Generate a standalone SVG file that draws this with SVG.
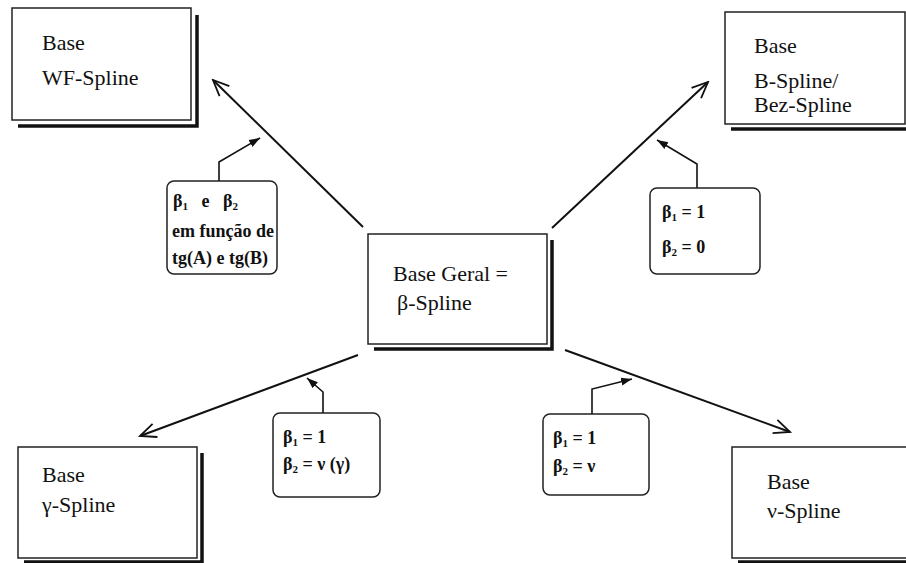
<svg xmlns="http://www.w3.org/2000/svg" width="906" height="563" viewBox="0 0 906 563">
<style>
.box{fill:#fff;stroke:#222;stroke-width:1.5}
.sh{fill:none;stroke:#111;stroke-width:3.5}
.lbl{fill:#fff;stroke:#222;stroke-width:1.5}
.t{font-family:"Liberation Serif","Times New Roman",serif;font-size:22px;fill:#111}
.s{font-family:"Liberation Serif","Times New Roman",serif;font-size:18px;font-weight:bold;fill:#111}
.sub{font-size:11px}
.main{fill:none;stroke:#111;stroke-width:2}
.conn{fill:none;stroke:#111;stroke-width:1.6}
</style>
<defs>
<marker id="open" markerWidth="20" markerHeight="16" refX="18" refY="8" orient="auto" markerUnits="userSpaceOnUse">
<path d="M2,1 L18,8 L2,15" fill="none" stroke="#111" stroke-width="1.8"/>
</marker>
<marker id="fill" markerWidth="12" markerHeight="10" refX="11" refY="5" orient="auto" markerUnits="userSpaceOnUse">
<path d="M0,1 L11,5 L0,9 Z" fill="#111"/>
</marker>
</defs>
<rect width="906" height="563" fill="#fff"/>

<g id="connectors">
<line class="main" x1="363" y1="227" x2="213" y2="80" marker-end="url(#open)"/>
<line class="main" x1="552" y1="228" x2="708" y2="82" marker-end="url(#open)"/>
<line class="main" x1="358" y1="355" x2="140" y2="436" marker-end="url(#open)"/>
<line class="main" x1="565" y1="350" x2="790" y2="432" marker-end="url(#open)"/>
<polyline class="conn" points="219,181 219,162 260,138" marker-end="url(#fill)"/>
<polyline class="conn" points="697,188 697,164 657,140" marker-end="url(#fill)"/>
<polyline class="conn" points="323,413 323,392 307,378" marker-end="url(#fill)"/>
<polyline class="conn" points="592,414 592,389 632,379" marker-end="url(#fill)"/>
</g>

<g id="wf">
<polyline class="sh" points="18,126 197,126 197,15"/>
<rect class="box" x="12" y="8" width="179" height="112"/>
<text class="t" x="42" y="50">Base</text>
<text class="t" x="42" y="85">WF-Spline</text>
</g>

<g id="bspline">
<line class="sh" x1="731" y1="129" x2="906" y2="129"/>
<rect class="box" x="725" y="12" width="180" height="112"/>
<text class="t" x="754" y="53">Base</text>
<text class="t" x="754" y="88">B-Spline/</text>
<text class="t" x="754" y="112">Bez-Spline</text>
</g>

<g id="central">
<polyline class="sh" points="374,349 552,349 552,240"/>
<rect class="box" x="368" y="234" width="179" height="110"/>
<text class="t" x="393" y="281">Base Geral =</text>
<text class="t" x="397" y="310">β-Spline</text>
</g>

<g id="gamma">
<polyline class="sh" points="24,562 202,562 202,453"/>
<rect class="box" x="18" y="447" width="179" height="111"/>
<text class="t" x="42" y="482">Base</text>
<text class="t" x="42" y="512">γ-Spline</text>
</g>

<g id="nu">
<line class="sh" x1="738" y1="562" x2="906" y2="562"/>
<rect class="box" x="732" y="447" width="180" height="111"/>
<text class="t" x="767" y="489">Base</text>
<text class="t" x="767" y="518">ν-Spline</text>
</g>

<g id="label-wf">
<rect class="lbl" x="167" y="181" width="110" height="93" rx="7"/>
<text class="s" x="173" y="207" xml:space="preserve">β<tspan class="sub" dy="3">1</tspan><tspan dy="-3">   e   β</tspan><tspan class="sub" dy="3">2</tspan></text>
<text class="s" x="172" y="237">em função de</text>
<text class="s" x="172" y="264">tg(A) e tg(B)</text>
</g>

<g id="label-b">
<rect class="lbl" x="650" y="188" width="110" height="86" rx="7"/>
<text class="s" x="662" y="218">β<tspan class="sub" dy="3">1</tspan><tspan dy="-3"> = 1</tspan></text>
<text class="s" x="662" y="253">β<tspan class="sub" dy="3">2</tspan><tspan dy="-3"> = 0</tspan></text>
</g>

<g id="label-gamma">
<rect class="lbl" x="273" y="413" width="107" height="84" rx="7"/>
<text class="s" x="283" y="443">β<tspan class="sub" dy="3">1</tspan><tspan dy="-3"> = 1</tspan></text>
<text class="s" x="283" y="470">β<tspan class="sub" dy="3">2</tspan><tspan dy="-3"> = ν (γ)</tspan></text>
</g>

<g id="label-nu">
<rect class="lbl" x="543" y="414" width="106" height="81" rx="7"/>
<text class="s" x="553" y="444">β<tspan class="sub" dy="3">1</tspan><tspan dy="-3"> = 1</tspan></text>
<text class="s" x="553" y="472">β<tspan class="sub" dy="3">2</tspan><tspan dy="-3"> = ν</tspan></text>
</g>
</svg>
